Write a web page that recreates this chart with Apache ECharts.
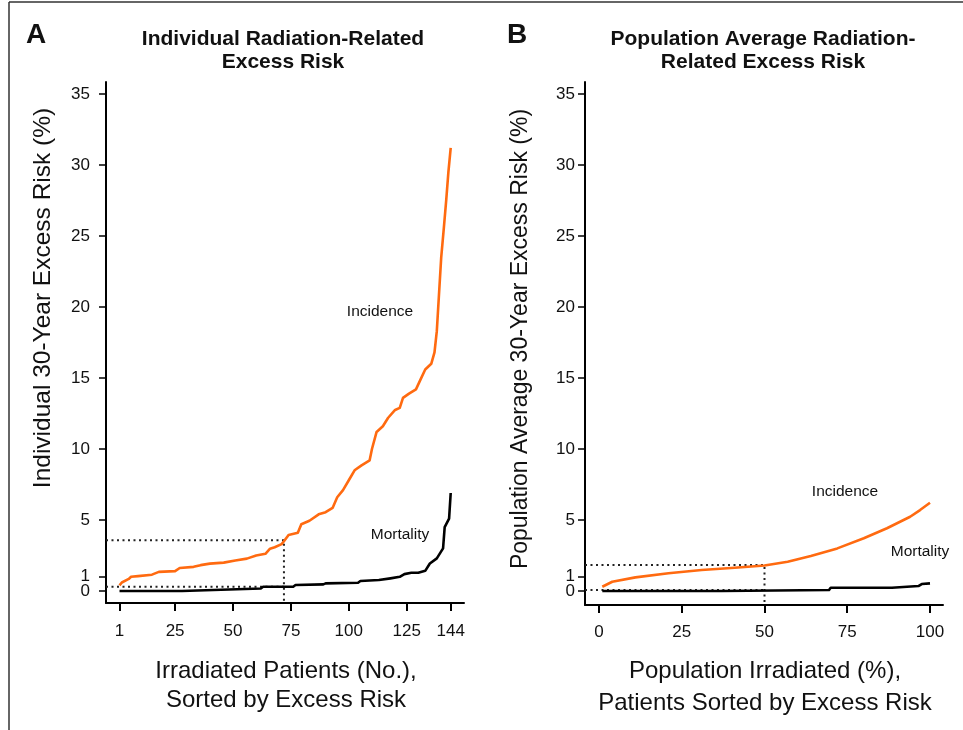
<!DOCTYPE html>
<html lang="en">
<head>
<meta charset="UTF-8">
<title>Radiation-Related Excess Risk</title>
<script src="https://cdn.jsdelivr.net/npm/echarts@6.0.0/dist/echarts.min.js"></script>
<style>
    html, body { margin: 0; padding: 0; background: #fff; }
    #chart { width: 963px; height: 730px; }
</style>
</head>
<body>
<div id="chart"></div>
<script>
    // ---- data ----
    // panel A: patient number vs individual 30-year excess risk (%)
    var incidenceA = [[1,0.4],[2,0.6],[5,0.85],[6,1.0],[9,1.05],[15,1.15],[18,1.35],[25,1.4],[27,1.62],
        [33,1.7],[36,1.82],[40,1.93],[46,2.0],[51,2.15],[56,2.28],[60,2.5],[64,2.62],[66,2.98],[68,3.08],
        [71,3.3],[72,3.5],[74,3.95],[78,4.1],[79.5,4.7],[83,4.95],[87,5.4],[90,5.55],[93,5.85],[95,6.6],
        [97.5,7.1],[100,7.8],[102.5,8.5],[105.5,8.85],[109,9.2],[110,10],[112,11.2],[114.7,11.6],[117,12.2],
        [120,12.75],[122,12.9],[123.4,13.6],[126,13.9],[129,14.2],[131,14.9],[133,15.6],[135.6,16.0],
        [137,16.8],[138,18.3],[138.8,20.5],[139.9,23.5],[141,25.5],[142.1,27.6],[143,29.5],[144,31.2]];
    var mortalityA = [[1,0],[28,0],[28.5,0.12],[62,0.18],[63,0.3],[76,0.3],[77,0.42],[89,0.47],[90,0.54],
        [104,0.58],[105,0.7],[113,0.77],[118,0.89],[122,1.0],[124,1.19],[127,1.28],[130,1.28],[133,1.42],
        [135,1.94],[138,2.3],[140.7,3.0],[141.4,4.5],[143.3,5.1],[144,6.9]];
    // panel B: % of population irradiated vs population average excess risk (%)
    var incidenceB = [[1,0.3],[4,0.65],[11,0.96],[21,1.25],[31,1.48],[41,1.64],[50,1.8],[57,2.06],
        [64,2.46],[72,3.0],[80,3.71],[87,4.42],[94,5.23],[97,5.7],[100,6.22]];
    var mortalityB = [[1,0],[37,0],[37.5,0.07],[69.5,0.07],[70,0.23],[88.5,0.23],[89,0.35],[96.5,0.35],
        [97.5,0.49],[100,0.54]];
    // median reference points (dotted guides)
    var medianA = { x: 72, incidence: 3.57, mortality: 0.3 };
    var medianB = { x: 50, incidence: 1.83, mortality: 0.07 };

    var yTicks = [1, 5, 10, 15, 20, 25, 30, 35];
    var yZeroTick = [0];   // drawn on its own axis so it is not dropped next to "1"
    var xTicksA = [1, 25, 50, 75, 100, 125, 144];
    var xTicksB = [0, 25, 50, 75, 100];

    // axis ranges
    var xRangeA = [-4.83, 149.74], yRangeA = [-0.845, 35.845];
    var xRangeB = [-4.23, 103.93], yRangeB = [-0.986, 35.845];

    var chart = echarts.init(document.getElementById('chart'));

    var orange = '#FF6A10';
    var labelFont = 'Liberation Sans, Arial, sans-serif';

    function xAxis(idx, range, ticks, margin) {
        return {
            type: 'value', gridIndex: idx, min: range[0], max: range[1],
            axisLine: { show: true, onZero: false, lineStyle: { color: '#000', width: 2 } },
            axisTick: { show: true, length: 8, customValues: ticks, lineStyle: { color: '#000', width: 2 } },
            axisLabel: { customValues: ticks, margin: margin, color: '#111', fontSize: 17, fontFamily: labelFont },
            splitLine: { show: false }
        };
    }
    function yAxis(idx, range, margin, ticks, showLine) {
        return {
            type: 'value', gridIndex: idx, min: range[0], max: range[1], position: 'left',
            axisLine: { show: showLine, onZero: false, lineStyle: { color: '#000', width: 2 } },
            axisTick: { show: true, length: 7, customValues: ticks, lineStyle: { color: '#000', width: 1.5 } },
            axisLabel: { customValues: ticks, margin: margin, color: '#111', fontSize: 17, fontFamily: labelFont,
                         hideOverlap: false },
            splitLine: { show: false }
        };
    }
    function curve(name, idx, data, color) {
        return {
            name: name, type: 'line', xAxisIndex: idx, yAxisIndex: idx, data: data,
            showSymbol: false, symbol: 'none', z: 3, silent: true,
            lineStyle: { color: color, width: 2.6, join: 'round' }
        };
    }
    function guides(idx, med, xMin, yMin) {
        var style = { color: '#222', width: 2, type: [2, 3.5] };
        return [
            { type: 'line', xAxisIndex: idx, yAxisIndex: idx, symbol: 'none', z: 2, silent: true,
              data: [[xMin, med.incidence], [med.x, med.incidence], [med.x, yMin]], lineStyle: style },
            { type: 'line', xAxisIndex: idx, yAxisIndex: idx, symbol: 'none', z: 2, silent: true,
              data: [[xMin, med.mortality], [med.x, med.mortality]], lineStyle: style }
        ];
    }
    function txt(x, y, s, size, weight, extra) {
        var t = { type: 'text', x: x, y: y, silent: true,
            style: { text: s, fontSize: size, fontWeight: weight || 'normal', fontFamily: labelFont,
                     fill: '#111', align: 'center', verticalAlign: 'middle' } };
        if (extra) { for (var k in extra) t[k] = extra[k]; }
        return t;
    }

    var option = {
        animation: false,
        backgroundColor: '#fff',
        grid: [
            { left: 106, top: 82, width: 358, height: 521, outerBoundsMode: 'none' },
            { left: 585, top: 82, width: 358, height: 523, outerBoundsMode: 'none' }
        ],
        xAxis: [xAxis(0, xRangeA, xTicksA, 20), xAxis(1, xRangeB, xTicksB, 19)],
        yAxis: [
            yAxis(0, yRangeA, 16, yTicks, true),
            yAxis(1, yRangeB, 10, yTicks, true),
            yAxis(0, yRangeA, 16, yZeroTick, false),
            yAxis(1, yRangeB, 10, yZeroTick, false)
        ],
        series: [].concat(
            guides(0, medianA, xRangeA[0], yRangeA[0]),
            guides(1, medianB, xRangeB[0], yRangeB[0]),
            [curve('Incidence', 0, incidenceA, orange),
             curve('Mortality', 0, mortalityA, '#000'),
             curve('Incidence', 1, incidenceB, orange),
             curve('Mortality', 1, mortalityB, '#000')]
        ),
        graphic: [
            // frame
            { type: 'line', shape: { x1: 9, y1: 2, x2: 963, y2: 2 }, style: { stroke: '#333', lineWidth: 1.5 } },
            { type: 'line', shape: { x1: 9, y1: 2, x2: 9, y2: 730 }, style: { stroke: '#333', lineWidth: 1.5 } },
            // panel letters and titles
            txt(36, 35, 'A', 28, 'bold'),
            txt(517, 35, 'B', 28, 'bold'),
            txt(283, 39, 'Individual Radiation-Related', 21, 'bold'),
            txt(283, 62, 'Excess Risk', 21, 'bold'),
            txt(763, 39, 'Population Average Radiation-', 21, 'bold'),
            txt(763, 62, 'Related Excess Risk', 21, 'bold'),
            // axis titles
            txt(286, 671, 'Irradiated Patients (No.),', 24),
            txt(286, 700, 'Sorted by Excess Risk', 24),
            txt(765, 671, 'Population Irradiated (%),', 24),
            txt(765, 703, 'Patients Sorted by Excess Risk', 24),
            txt(43, 298, 'Individual 30-Year Excess Risk (%)', 24.5, 'normal', { rotation: Math.PI / 2 }),
            txt(521, 339, 'Population Average 30-Year Excess Risk (%)', 23, 'normal', { rotation: Math.PI / 2 }),
            // curve annotations
            txt(380, 312, 'Incidence', 15.5),
            txt(400, 535, 'Mortality', 15.5),
            txt(845, 492, 'Incidence', 15.5),
            txt(920, 552, 'Mortality', 15.5)
        ]
    };

    chart.setOption(option);
</script>
</body>
</html>
